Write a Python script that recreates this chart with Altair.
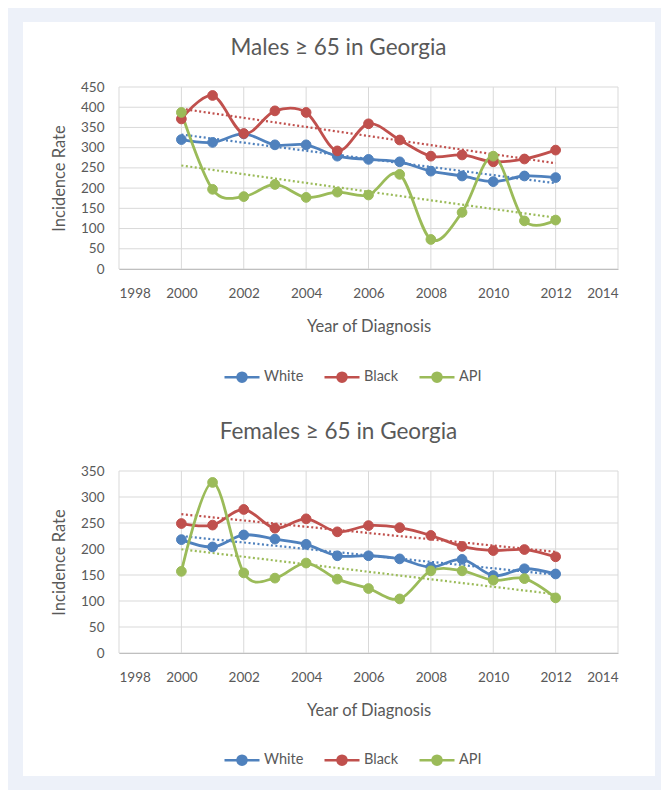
import altair as alt
import pandas as pd

years = [2000, 2001, 2002, 2003, 2004, 2005, 2006, 2007, 2008, 2009, 2010, 2011, 2012]
races = ["White", "Black", "API"]
colors = ["#4F81BD", "#C0504D", "#9BBB59"]

male_white = [320, 313, 334, 307, 307, 279, 271, 265, 242, 230, 216, 230, 226]
male_black = [371, 429, 335, 391, 387, 292, 359, 319, 279, 282, 265, 272, 294]
male_api = [387, 197, 179, 209, 177, 190, 183, 234, 73, 140, 279, 119, 121]

female_white = [218, 204, 227, 219, 209, 187, 187, 181, 165, 180, 149, 162, 152]
female_black = [249, 246, 276, 240, 258, 233, 245, 241, 226, 205, 197, 199, 185]
female_api = [157, 328, 154, 144, 173, 142, 124, 104, 158, 158, 140, 143, 106]

x_ticks = [1998, 2000, 2002, 2004, 2006, 2008, 2010, 2012, 2014]
male_y_ticks = [0, 50, 100, 150, 200, 250, 300, 350, 400, 450]
female_y_ticks = [0, 50, 100, 150, 200, 250, 300, 350]

titles = ["Males \u2265 65 in Georgia", "Females \u2265 65 in Georgia"]
x_title = "Year of Diagnosis"
y_title = "Incidence Rate"

FONT = "Lato"
TXT = "#595959"
GRID = "#D9D9D9"
BG = "#EDF1F9"
SYMBOL = "M-1,0L1,0M-0.26,0A0.26,0.26,0,1,0,0.26,0A0.26,0.26,0,1,0,-0.26,0Z"


def make_panel(title, series, y_ticks, bg_bottom, legend_y):
    rows = []
    for race, vals in zip(races, series):
        for yr, v in zip(years, vals):
            rows.append({"year": yr, "rate": v, "race": race})
    df = pd.DataFrame(rows)

    xs = alt.Scale(domain=[x_ticks[0], x_ticks[-1]], nice=False, zero=False)
    ys = alt.Scale(domain=[y_ticks[0], y_ticks[-1]], nice=False)
    cs = alt.Scale(domain=races, range=colors)

    x_axis = alt.Axis(values=x_ticks, format="d", grid=False, ticks=False,
                      domain=True, domainColor="#BFBFBF", domainWidth=1,
                      labelFont=FONT, labelFontSize=13.5, labelColor=TXT,
                      labelPadding=17, title=x_title, titleFont=FONT,
                      titleFontSize=16.5, titleFontWeight="normal",
                      titleColor=TXT, titlePadding=19, zindex=1)
    y_axis = alt.Axis(values=y_ticks, grid=False, ticks=False, domain=False,
                      labelFont=FONT, labelFontSize=13.5, labelColor=TXT,
                      labelPadding=15, title=y_title, titleFont=FONT,
                      titleFontSize=16.5, titleFontWeight="normal",
                      titleColor=TXT, titlePadding=13, zindex=1)

    leg = alt.Legend(orient="none", legendX=104, legendY=legend_y,
                     direction="horizontal", title=None, symbolType=SYMBOL,
                     symbolSize=1225, symbolStrokeWidth=2.5,
                     labelFont=FONT, labelFontSize=14.5, labelColor=TXT,
                     labelOffset=3, columnPadding=15, padding=0)

    X = alt.X("year:Q", scale=xs, axis=x_axis)
    Y = alt.Y("rate:Q", scale=ys, axis=y_axis)
    C = alt.Color("race:N", scale=cs, legend=leg)

    bg = alt.Chart(pd.DataFrame({"k": [0]})).mark_rect(color="white").encode(
        x=alt.value(-96), x2=alt.value(536), y=alt.value(-65), y2=alt.value(bg_bottom))
    vgrid = alt.Chart(pd.DataFrame({"t": x_ticks})).mark_rule(
        color=GRID, strokeWidth=1).encode(x=alt.X("t:Q", scale=xs, axis=x_axis))
    hgrid = alt.Chart(pd.DataFrame({"t": y_ticks})).mark_rule(
        color=GRID, strokeWidth=1).encode(y=alt.Y("t:Q", scale=ys, axis=y_axis))
    trend = alt.Chart(df).transform_regression(
        "year", "rate", groupby=["race"]).mark_line(
        strokeDash=[2, 2.5], strokeWidth=2.2).encode(x=X, y=Y, color=C)
    lines = alt.Chart(df).mark_line(interpolate="cardinal", strokeWidth=2.8).encode(
        x=X, y=Y, color=C)
    pts = alt.Chart(df).mark_point(filled=True, size=95, opacity=1, strokeWidth=1).encode(
        x=X, y=Y, color=C, stroke=alt.Stroke("race:N", scale=cs, legend=leg))

    return alt.layer(bg, vgrid, hgrid, trend, lines, pts).properties(
        width=499, height=182,
        title=alt.TitleParams(text=title, font=FONT, fontSize=22.5, color=TXT,
                              fontWeight="normal", anchor="middle", frame="group",
                              dx=-30, offset=-37))


top = make_panel(titles[0], [male_white, male_black, male_api], male_y_ticks, 319, 271)
bottom = make_panel(titles[1], [female_white, female_black, female_api], female_y_ticks, 305, 270)

chart = alt.vconcat(top, bottom, spacing=0).resolve_scale(
    color="independent", stroke="independent"
).resolve_legend(
    color="independent", stroke="independent"
).properties(
    background=BG,
    padding={"left": 15, "top": 14, "right": 6, "bottom": 14},
).configure_view(stroke=None)

chart.save("out.html", embed_options={"renderer": "svg", "actions": False})
